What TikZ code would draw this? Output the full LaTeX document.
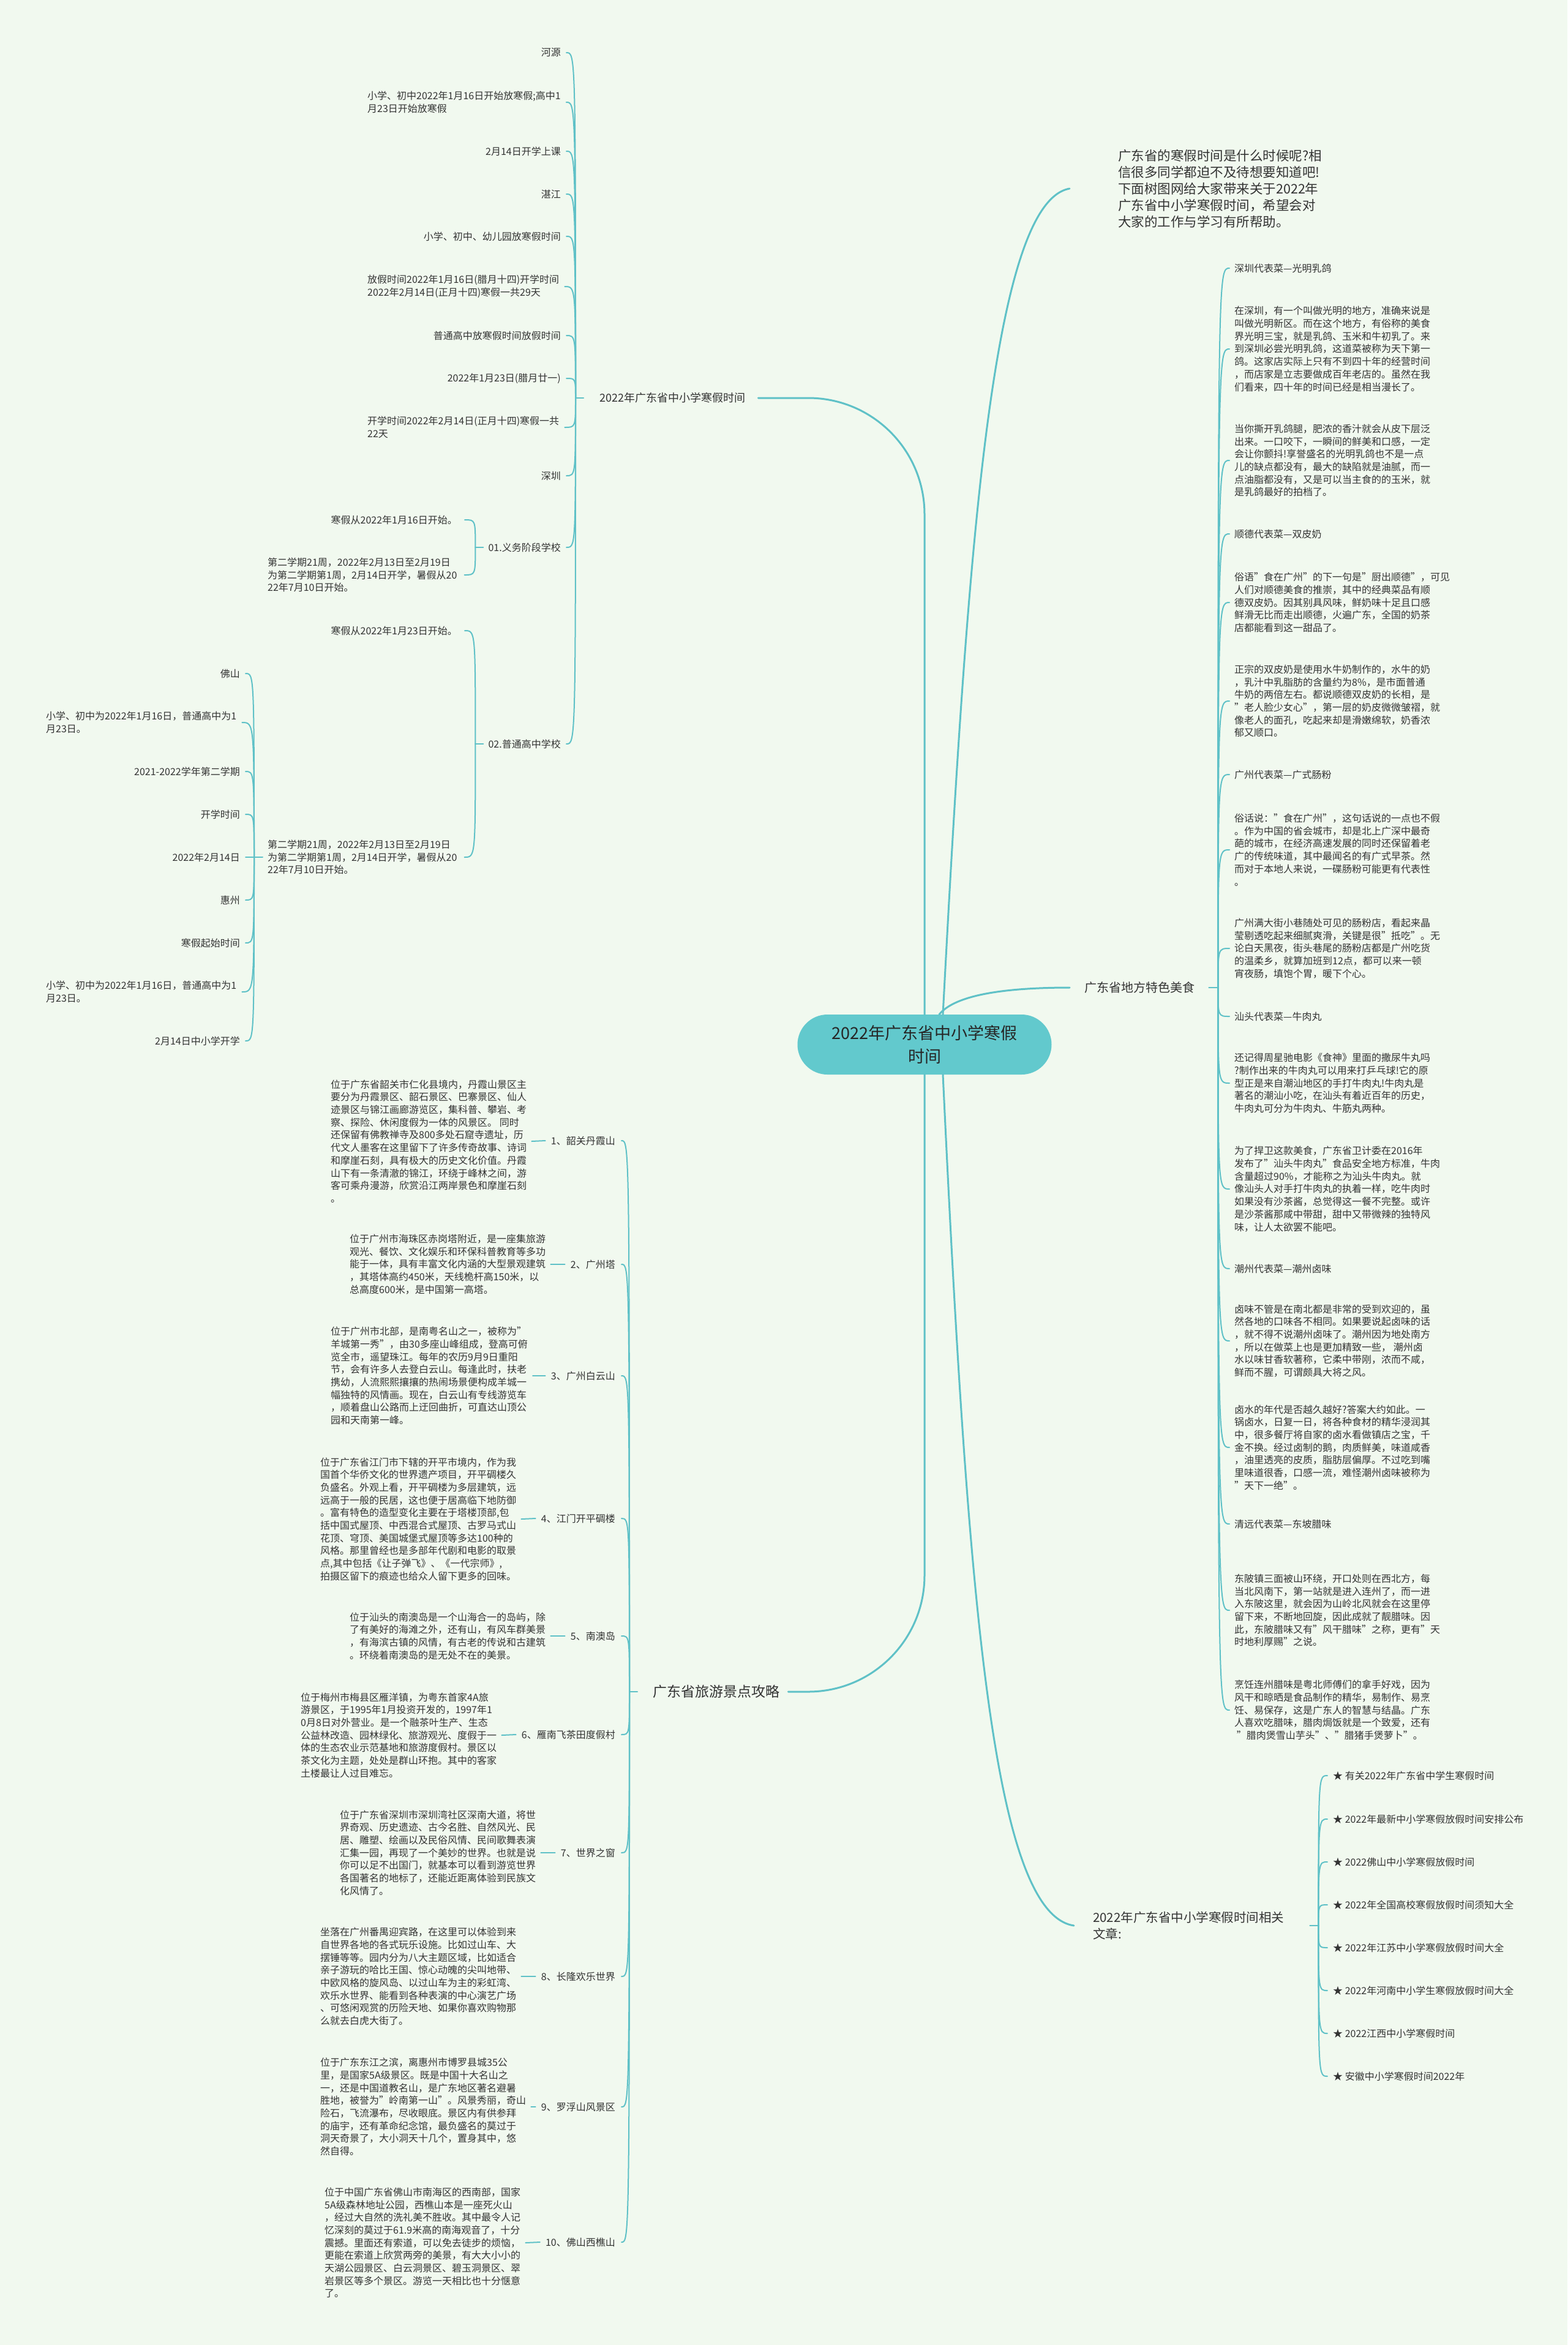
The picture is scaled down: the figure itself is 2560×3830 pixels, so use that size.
\documentclass[tikz,border=0pt]{standalone}
\usepackage{fontspec}
\setmainfont{Noto Sans CJK SC}
\usetikzlibrary{positioning, calc}
\definecolor{mline}{HTML}{5FC1C7}
\definecolor{mroot}{HTML}{62C9CD}
\definecolor{mbg}{HTML}{F1F9EF}
\definecolor{mtext}{HTML}{333333}
\tikzset{
  leaf/.style={inner sep=0pt, text=mtext, align=left, font=\fontsize{16}{20.7}\selectfont},
  lab/.style={inner sep=0pt, text=mtext, align=left, font=\fontsize{#1}{27}\selectfont},
  lab/.default=20,
  rootbox/.style={
    fill=mroot, rounded corners=49pt, minimum width=415pt, minimum height=98pt,
    inner sep=0pt, align=center, text=black!85, font=\fontsize{27}{38}\selectfont
  },
  link/.style={draw=mline, line width=2pt, line cap=round},
  mainlink/.style={draw=mline, line width=3pt, line cap=round}
}
\begin{document}
\begin{tikzpicture}[x=1pt, y=-1pt]
  \fill[mbg] (0,0) rectangle (2560,3830);
  \node[rootbox] (root) at (1510,1706) {2022年广东省中小学寒假\\时间};

  % main branches
  \node[lab=18, anchor=west] (br1) at (979,650) {2022年广东省中小学寒假时间};
  \node[lab=23, anchor=west] (brT) at (1066,2763) {广东省旅游景点攻略};
  \node[lab=20, anchor=west] (brF) at (1771,1613) {广东省地方特色美食};
  \node[lab=20.5, anchor=west] (brR) at (1785,3145) {2022年广东省中小学寒假时间相关\\文章:};
  \node[lab=21.5, anchor=west] (intro) at (1826,308) {广东省的寒假时间是什么时候呢?相\\信很多同学都迫不及待想要知道吧!\\下面树图网给大家带来关于2022年\\广东省中小学寒假时间，希望会对\\大家的工作与学习有所帮助。};

  \draw[mainlink, rounded corners=190pt] (root.north) |- ([xshift=21pt]br1.east);
  \draw[mainlink, rounded corners=190pt] (root.south) |- ([xshift=14pt]brT.east);
  \draw[mainlink] ([xshift=24pt]root.north) .. controls (1560,1625) and (1640,1613) .. ([xshift=-24pt]brF.west);
  \draw[mainlink] ([xshift=30pt]root.north) .. controls (1580,900) and (1620,330) .. ([xshift=-79pt]intro.west);
  \draw[mainlink] ([xshift=30pt]root.south) .. controls (1580,2600) and (1620,3125) .. ([xshift=-31pt]brR.west);

  % winter holiday branch
  \foreach \n/\y/\t in {a1/86/河源, a3/247/2月14日开学上课, a4/317/湛江,
      a5/386/小学、初中、幼儿园放寒假时间, a7/548/普通高中放寒假时间放假时间,
      a8/618/2022年1月23日(腊月廿一), a10/777/深圳, b01/894/01.义务阶段学校,
      b02/1215/02.普通高中学校}
    \node[leaf, anchor=east] (\n) at (916,\y) {\t};
  \node[leaf, anchor=west] (a2) at (600,167) {小学、初中2022年1月16日开始放寒假;高中1\\月23日开始放寒假};
  \node[leaf, anchor=west] (a6) at (600,468) {放假时间2022年1月16日(腊月十四)开学时间\\2022年2月14日(正月十四)寒假一共29天};
  \node[leaf, anchor=west] (a9) at (600,698) {开学时间2022年2月14日(正月十四)寒假一共\\22天};

  \coordinate (s1) at ([xshift=-39pt]br1.west);
  \draw[link] ([xshift=-26pt]br1.west) -- (s1);
  \foreach \c in {a1,a2,a3,a4,a5,a6,a7,a8,a9,a10,b01,b02}
    \draw[link] (s1) .. controls (s1 |- \c.east) .. ([xshift=9pt]\c.east);

  \node[leaf, anchor=east] (c1) at (747,849) {寒假从2022年1月16日开始。};
  \node[leaf, anchor=west] (c2) at (437,939) {第二学期21周，2022年2月13日至2月19日\\为第二学期第1周，2月14日开学，暑假从20\\22年7月10日开始。};
  \node[leaf, anchor=east] (d1) at (747,1030) {寒假从2022年1月23日开始。};
  \node[leaf, anchor=west] (d2) at (437,1400) {第二学期21周，2022年2月13日至2月19日\\为第二学期第1周，2月14日开学，暑假从20\\22年7月10日开始。};

  \coordinate (s01) at ([xshift=-21pt]b01.west);
  \draw[link] ([xshift=-8pt]b01.west) -- (s01);
  \foreach \c in {c1,c2}
    \draw[link] (s01) .. controls (s01 |- \c.east) .. ([xshift=12pt]\c.east);
  \coordinate (s02) at ([xshift=-21pt]b02.west);
  \draw[link] ([xshift=-8pt]b02.west) -- (s02);
  \foreach \c in {d1,d2}
    \draw[link] (s02) .. controls (s02 |- \c.east) .. ([xshift=12pt]\c.east);

  \foreach \n/\y/\t in {e1/1100/佛山, e3/1260/2021-2022学年第二学期, e4/1330/开学时间,
      e5/1400/2022年2月14日, e6/1470/惠州, e7/1540/寒假起始时间, e9/1700/2月14日中小学开学}
    \node[leaf, anchor=east] (\n) at (392,\y) {\t};
  \node[leaf, anchor=west] (e2) at (75,1180) {小学、初中为2022年1月16日，普通高中为1\\月23日。};
  \node[leaf, anchor=west] (e8) at (75,1620) {小学、初中为2022年1月16日，普通高中为1\\月23日。};

  \coordinate (sE) at ([xshift=-22pt]d2.west);
  \draw[link] ([xshift=-8pt]d2.west) -- (sE);
  \foreach \c in {e1,e2,e3,e4,e5,e6,e7,e8,e9}
    \draw[link] (sE) .. controls (sE |- \c.east) .. ([xshift=9pt]\c.east);

  % tourism branch
  \foreach \i/\y/\t in {1/1863/1、韶关丹霞山, 2/2065/2、广州塔, 3/2247/3、广州白云山,
      4/2480/4、江门开平碉楼, 5/2672/5、南澳岛, 6/2833/6、雁南飞茶田度假村,
      7/3026/7、世界之窗, 8/3228/8、长隆欢乐世界, 9/3441/9、罗浮山风景区, 10/3662/10、佛山西樵山}
    \node[leaf, anchor=east] (t\i) at (1005,\y) {\t};

  \node[leaf, anchor=west] (g1) at (540,1864) {位于广东省韶关市仁化县境内，丹霞山景区主\\要分为丹霞景区、韶石景区、巴寨景区、仙人\\迹景区与锦江画廊游览区，集科普、攀岩、考\\察、探险、休闲度假为一体的风景区。 同时\\还保留有佛教禅寺及800多处石窟寺遗址，历\\代文人墨客在这里留下了许多传奇故事、诗词\\和摩崖石刻，具有极大的历史文化价值。丹霞\\山下有一条清澈的锦江，环绕于峰林之间，游\\客可乘舟漫游，欣赏沿江两岸景色和摩崖石刻\\。};
  \node[leaf, anchor=west] (g2) at (571,2065) {位于广州市海珠区赤岗塔附近，是一座集旅游\\观光、餐饮、文化娱乐和环保科普教育等多功\\能于一体，具有丰富文化内涵的大型景观建筑\\，其塔体高约450米，天线桅杆高150米，以\\总高度600米，是中国第一高塔。};
  \node[leaf, anchor=west] (g3) at (540,2247) {位于广州市北部，是南粤名山之一，被称为"\\羊城第一秀"，由30多座山峰组成，登高可俯\\览全市，遥望珠江。每年的农历9月9日重阳\\节，会有许多人去登白云山。每逢此时，扶老\\携幼，人流熙熙攘攘的热闹场景便构成羊城一\\幅独特的风情画。现在，白云山有专线游览车\\，顺着盘山公路而上迂回曲折，可直达山顶公\\园和天南第一峰。};
  \node[leaf, anchor=west] (g4) at (523,2481) {位于广东省江门市下辖的开平市境内，作为我\\国首个华侨文化的世界遗产项目，开平碉楼久\\负盛名。外观上看，开平碉楼为多层建筑，远\\远高于一般的民居，这也便于居高临下地防御\\。富有特色的造型变化主要在于塔楼顶部,包\\括中国式屋顶、中西混合式屋顶、古罗马式山\\花顶、穹顶、美国城堡式屋顶等多达100种的\\风格。那里曾经也是多部年代剧和电影的取景\\点,其中包括《让子弹飞》、《一代宗师》,\\拍摄区留下的痕迹也给众人留下更多的回味。};
  \node[leaf, anchor=west] (g5) at (571,2672) {位于汕头的南澳岛是一个山海合一的岛屿，除\\了有美好的海滩之外，还有山，有风车群美景\\，有海滨古镇的风情，有古老的传说和古建筑\\。环绕着南澳岛的是无处不在的美景。};
  \node[leaf, anchor=west] (g6) at (491,2834) {位于梅州市梅县区雁洋镇，为粤东首家4A旅\\游景区，于1995年1月投资开发的，1997年1\\0月8日对外营业。是一个融茶叶生产、生态\\公益林改造、园林绿化、旅游观光、度假于一\\体的生态农业示范基地和旅游度假村。景区以\\茶文化为主题，处处是群山环抱。其中的客家\\土楼最让人过目难忘。};
  \node[leaf, anchor=west] (g7) at (555,3026) {位于广东省深圳市深圳湾社区深南大道，将世\\界奇观、历史遗迹、古今名胜、自然风光、民\\居、雕塑、绘画以及民俗风情、民间歌舞表演\\汇集一园，再现了一个美妙的世界。也就是说\\你可以足不出国门，就基本可以看到游览世界\\各国著名的地标了，还能近距离体验到民族文\\化风情了。};
  \node[leaf, anchor=west] (g8) at (523,3228) {坐落在广州番禺迎宾路，在这里可以体验到来\\自世界各地的各式玩乐设施。比如过山车、大\\摆锤等等。园内分为八大主题区域，比如适合\\亲子游玩的哈比王国、惊心动魄的尖叫地带、\\中欧风格的旋风岛、以过山车为主的彩虹湾、\\欢乐水世界、能看到各种表演的中心演艺广场\\、可悠闲观赏的历险天地、如果你喜欢购物那\\么就去白虎大街了。};
  \node[leaf, anchor=west] (g9) at (523,3441) {位于广东东江之滨，离惠州市博罗县城35公\\里，是国家5A级景区。既是中国十大名山之\\一，还是中国道教名山，是广东地区著名避暑\\胜地，被誉为"岭南第一山"。风景秀丽，奇山\\险石，飞流瀑布，尽收眼底。景区内有供参拜\\的庙宇，还有革命纪念馆，最负盛名的莫过于\\洞天奇景了，大小洞天十几个，置身其中，悠\\然自得。};
  \node[leaf, anchor=west] (g10) at (530,3663) {位于中国广东省佛山市南海区的西南部，国家\\5A级森林地址公园，西樵山本是一座死火山\\，经过大自然的洗礼美不胜收。其中最令人记\\忆深刻的莫过于61.9米高的南海观音了，十分\\震撼。里面还有索道，可以免去徒步的烦恼，\\更能在索道上欣赏两旁的美景，有大大小小的\\天湖公园景区、白云洞景区、碧玉洞景区、翠\\岩景区等多个景区。游览一天相比也十分惬意\\了。};

  \coordinate (sT) at ([xshift=-38pt]brT.west);
  \draw[link] ([xshift=-25pt]brT.west) -- (sT);
  \foreach \i in {1,...,10} {
    \draw[link] (sT) .. controls (sT |- t\i.east) .. ([xshift=10pt]t\i.east);
    \draw[link] ([xshift=-9pt]t\i.west) -- ([xshift=8pt]g\i.east);
  }

  % food branch
  \foreach \n/\y/\t in {h1/438/深圳代表菜—光明乳鸽, h2/872/顺德代表菜—双皮奶,
      h3/1265/广州代表菜—广式肠粉, h4/1660/汕头代表菜—牛肉丸,
      h5/2072/潮州代表菜—潮州卤味, h6/2489/清远代表菜—东坡腊味}
    \node[leaf, anchor=west] (\n) at (2016,\y) {\t};

  \node[leaf, anchor=west] (p1) at (2016,570) {在深圳，有一个叫做光明的地方，准确来说是\\叫做光明新区。而在这个地方，有俗称的美食\\界光明三宝，就是乳鸽、玉米和牛初乳了。来\\到深圳必尝光明乳鸽，这道菜被称为天下第一\\鸽。这家店实际上只有不到四十年的经营时间\\，而店家是立志要做成百年老店的。虽然在我\\们看来，四十年的时间已经是相当漫长了。};
  \node[leaf, anchor=west] (p2) at (2016,752) {当你撕开乳鸽腿，肥浓的香汁就会从皮下层泛\\出来。一口咬下，一瞬间的鲜美和口感，一定\\会让你颤抖!享誉盛名的光明乳鸽也不是一点\\儿的缺点都没有，最大的缺陷就是油腻，而一\\点油脂都没有，又是可以当主食的的玉米，就\\是乳鸽最好的拍档了。};
  \node[leaf, anchor=west] (p3) at (2016,984) {俗语"食在广州"的下一句是"厨出顺德"，可见\\人们对顺德美食的推崇，其中的经典菜品有顺\\德双皮奶。因其别具风味，鲜奶味十足且口感\\鲜滑无比而走出顺德，火遍广东，全国的奶茶\\店都能看到这一甜品了。};
  \node[leaf, anchor=west] (p4) at (2016,1145) {正宗的双皮奶是使用水牛奶制作的，水牛的奶\\，乳汁中乳脂肪的含量约为8\%，是市面普通\\牛奶的两倍左右。都说顺德双皮奶的长相，是\\"老人脸少女心"，第一层的奶皮微微皱褶，就\\像老人的面孔，吃起来却是滑嫩绵软，奶香浓\\郁又顺口。};
  \node[leaf, anchor=west] (p5) at (2016,1388) {俗话说："食在广州"，这句话说的一点也不假\\。作为中国的省会城市，却是北上广深中最奇\\葩的城市，在经济高速发展的同时还保留着老\\广的传统味道，其中最闻名的有广式早茶。然\\而对于本地人来说，一碟肠粉可能更有代表性\\。};
  \node[leaf, anchor=west] (p6) at (2016,1549) {广州满大街小巷随处可见的肠粉店，看起来晶\\莹剔透吃起来细腻爽滑，关键是很"抵吃"。无\\论白天黑夜，街头巷尾的肠粉店都是广州吃货\\的温柔乡，就算加班到12点，都可以来一顿\\宵夜肠，填饱个胃，暖下个心。};
  \node[leaf, anchor=west] (p7) at (2016,1769) {还记得周星驰电影《食神》里面的撒尿牛丸吗\\?制作出来的牛肉丸可以用来打乒乓球!它的原\\型正是来自潮汕地区的手打牛肉丸!牛肉丸是\\著名的潮汕小吃，在汕头有着近百年的历史，\\牛肉丸可分为牛肉丸、牛筋丸两种。};
  \node[leaf, anchor=west] (p8) at (2016,1942) {为了捍卫这款美食，广东省卫计委在2016年\\发布了"汕头牛肉丸"食品安全地方标准，牛肉\\含量超过90\%，才能称之为汕头牛肉丸。就\\像汕头人对手打牛肉丸的执着一样，吃牛肉时\\如果没有沙茶酱，总觉得这一餐不完整。或许\\是沙茶酱那咸中带甜，甜中又带微辣的独特风\\味，让人太欲罢不能吧。};
  \node[leaf, anchor=west] (p9) at (2016,2190) {卤味不管是在南北都是非常的受到欢迎的，虽\\然各地的口味各不相同。如果要说起卤味的话\\，就不得不说潮州卤味了。潮州因为地处南方\\，所以在做菜上也是更加精致一些， 潮州卤\\水以味甘香软著称，它柔中带刚，浓而不咸，\\鲜而不腥，可谓颇具大将之风。};
  \node[leaf, anchor=west] (p10) at (2016,2364) {卤水的年代是否越久越好?答案大约如此。一\\锅卤水，日复一日，将各种食材的精华浸润其\\中，很多餐厅将自家的卤水看做镇店之宝，千\\金不换。经过卤制的鹅，肉质鲜美，味道咸香\\，油里透亮的皮质，脂肪层偏厚。不过吃到嘴\\里味道很香，口感一流，难怪潮州卤味被称为\\"天下一绝"。};
  \node[leaf, anchor=west] (p11) at (2016,2630) {东陂镇三面被山环绕，开口处则在西北方，每\\当北风南下，第一站就是进入连州了，而一进\\入东陂这里，就会因为山岭北风就会在这里停\\留下来，不断地回旋，因此成就了靓腊味。因\\此，东陂腊味又有"风干腊味"之称，更有"天\\时地利厚赐"之说。};
  \node[leaf, anchor=west] (p12) at (2016,2793) {烹饪连州腊味是粤北师傅们的拿手好戏，因为\\风干和晾晒是食品制作的精华，易制作、易烹\\饪、易保存，这是广东人的智慧与结晶。广东\\人喜欢吃腊味，腊肉焗饭就是一个致爱，还有\\~"腊肉煲雪山芋头"、"腊猪手煲萝卜"。};

  \coordinate (sF) at ([xshift=38pt]brF.east);
  \draw[link] ([xshift=23pt]brF.east) -- (sF);
  \foreach \c in {h1,p1,p2,h2,p3,p4,h3,p5,p6,h4,p7,p8,h5,p9,p10,h6,p11,p12}
    \draw[link] (sF) .. controls (sF |- \c.west) .. ([xshift=-8pt]\c.west);

  % related articles
  \foreach \i/\y/\t in {1/2900/有关2022年广东省中学生寒假时间, 2/2971/2022年最新中小学寒假放假时间安排公布,
      3/3041/2022佛山中小学寒假放假时间, 4/3111/2022年全国高校寒假放假时间须知大全,
      5/3181/2022年江苏中小学寒假放假时间大全, 6/3251/2022年河南中小学生寒假放假时间大全,
      7/3321/2022江西中小学寒假时间, 8/3391/安徽中小学寒假时间2022年}
    \node[leaf, anchor=west] (r\i) at (2177,\y) {★ \t};

  \coordinate (sR) at ([xshift=56pt]brR.east);
  \draw[link] ([xshift=42pt]brR.east) -- (sR);
  \foreach \i in {1,...,8}
    \draw[link] (sR) .. controls (sR |- r\i.west) .. ([xshift=-9pt]r\i.west);
\end{tikzpicture}
\end{document}
